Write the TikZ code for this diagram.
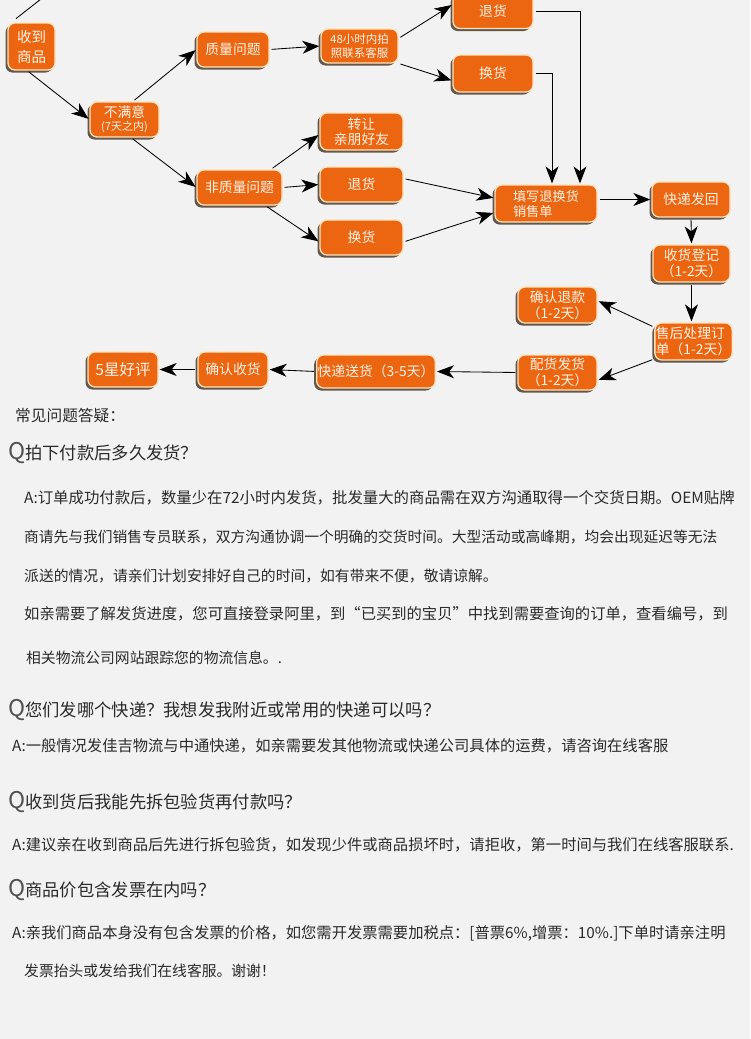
\documentclass[tikz,border=0pt]{standalone}
\usepackage{fontspec}
\setmainfont{Noto Sans CJK SC}
\usetikzlibrary{arrows.meta,shadows,calc}
\definecolor{bg}{HTML}{F2F2F2}
\definecolor{boxfill}{HTML}{EC6612}
\definecolor{boxedge}{HTML}{FFE3BA}
\definecolor{boxtext}{HTML}{FFF3E6}
\definecolor{shadowc}{HTML}{4A3B2E}
\definecolor{txt}{HTML}{2A2A2A}
\definecolor{qcol}{HTML}{505050}
\tikzset{
  flowbox/.style={rounded corners=7pt, fill=boxfill, draw=boxedge, line width=1.3pt,
    text=boxtext, align=center, inner sep=1pt,
    font=\fontsize{13.8}{16}\selectfont,
    drop shadow={shadow xshift=-2.5pt, shadow yshift=-2.5pt, fill=shadowc, opacity=0.85}},
  link/.style={draw=black, line width=0.85pt, -{Stealth[length=17pt,width=13pt,inset=5pt]},
    shorten >=1pt, shorten <=2pt},
  plain/.style={draw=black, line width=0.85pt},
  faq/.style={anchor=west, inner sep=0pt, text=txt, font=\fontsize{14.8}{18}\selectfont},
  ques/.style={anchor=west, inner sep=0pt, text=txt, font=\fontsize{17.3}{20}\selectfont},
}
\newcommand{\bigQ}{{\fontsize{23}{23}\selectfont\color{qcol}Q}}
\begin{document}
\begin{tikzpicture}[x=1pt,y=-1pt]
\fill[bg] (0,0) rectangle (750,1039);
\useasboundingbox (0,0) rectangle (750,1039);

% ---------- flow boxes ----------
\node[flowbox, minimum width=47pt, minimum height=47pt, font=\fontsize{14.5}{20}\selectfont] (recv) at (31.5,46.5) {收到\\商品};
\node[flowbox, minimum width=69pt, minimum height=35pt] (unsat) at (124.5,119.5) {不满意\\[-3pt]{\fontsize{11}{12}\selectfont(7天之内)}};
\node[flowbox, minimum width=72pt, minimum height=35pt] (qual) at (233,49.5) {质量问题};
\node[flowbox, minimum width=77pt, minimum height=34pt, font=\fontsize{11.5}{13.5}\selectfont] (h48) at (359.5,46) {48小时内拍\\照联系客服};
\node[flowbox, minimum width=80pt, minimum height=35pt] (retA) at (493,11) {退货};
\node[flowbox, minimum width=80pt, minimum height=37pt] (excA) at (493,73.5) {换货};
\node[flowbox, minimum width=83pt, minimum height=37pt, font=\fontsize{13.8}{15}\selectfont] (gift) at (361.5,131.5) {转让\\亲朋好友};
\node[flowbox, minimum width=83pt, minimum height=35pt] (retB) at (361.5,184.5) {退货};
\node[flowbox, minimum width=83pt, minimum height=35pt] (excB) at (361.5,237.5) {换货};
\node[flowbox, minimum width=85pt, minimum height=35pt] (nonq) at (239.5,187.5) {非质量问题};
\node[flowbox, minimum width=102pt, minimum height=37pt, align=left, font=\fontsize{13.2}{15}\selectfont] (fill) at (546,203.5) {填写退换货\\销售单};
\node[flowbox, minimum width=78pt, minimum height=35pt] (ship) at (691,199.5) {快递发回};
\node[flowbox, minimum width=77pt, minimum height=37pt, font=\fontsize{13.8}{16}\selectfont] (reg) at (691.5,263.5) {收货登记\\（1-2天）};
\node[flowbox, minimum width=79pt, minimum height=36pt, font=\fontsize{13.8}{16}\selectfont] (refund) at (557.5,305) {确认退款\\（1-2天）};
\node[flowbox, minimum width=77pt, minimum height=37pt, align=left, font=\fontsize{13.8}{16}\selectfont] (proc) at (693.5,341.5) {售后处理订\\单（1-2天）};
\node[flowbox, minimum width=79pt, minimum height=35pt, font=\fontsize{13.8}{16}\selectfont] (pick) at (557.5,372.5) {配货发货\\（1-2天）};
\node[flowbox, minimum width=117pt, minimum height=33pt] (deliv) at (376,371.5) {快递送货（3-5天）};
\node[flowbox, minimum width=70pt, minimum height=35pt] (confirm) at (233,369.5) {确认收货};
\node[flowbox, minimum width=70pt, minimum height=35pt, font=\fontsize{15.5}{17}\selectfont] (five) at (123,369.5) {5星好评};

% ---------- connectors ----------
\coordinate (topin) at (41,-1);
\draw[plain, shorten >=6pt] (topin) -- (recv.130);
\draw[link] (recv.-100) -- (unsat.west);
\draw[link] (unsat.65) -- (qual.west);
\draw[link] (unsat.-70) -- (nonq.west);
\draw[link] (qual.east) -- (h48.west);
\draw[link] (h48.11) -- (retA.171);
\draw[link] (h48.-24) -- (excA.190);
\draw[link] (nonq.30) -- (gift.184);
\draw[link] (nonq.east) -- (retB.west);
\draw[link] (nonq.-35) -- (excB.186);
\draw[link] (retB.8) -- (fill.174);
\draw[link] (excB.-6) -- (fill.190);
\draw[link] (retA.east) -| ([xshift=34pt]fill.north);
\draw[link] (excA.east) -| ([xshift=6pt]fill.north);
\draw[link] (fill.east |- ship.west) -- (ship.west);
\draw[link] (ship.south) -- (reg.north);
\draw[link] (reg.south) -- (reg.south |- proc.north);
\draw[link] (proc.160) -- (refund.6);
\draw[link] (proc.204) -- (pick.-11);
\draw[link] (pick.west) -- (deliv.east);
\draw[link] (deliv.west) -- (confirm.east);
\draw[link] (confirm.west) -- (five.east);

% ---------- FAQ ----------
\node[faq, font=\fontsize{15.7}{18}\selectfont] (faqtitle) at (15,416) {常见问题答疑：};
\node[ques] (q1) at (8,453) {\bigQ 拍下付款后多久发货？};
\node[faq, font=\fontsize{15.4}{18}\selectfont] (a1a) at (24,498) {A:订单成功付款后，数量少在72小时内发货，批发量大的商品需在双方沟通取得一个交货日期。OEM贴牌};
\node[faq, font=\fontsize{14.75}{18}\selectfont] (a1b) at (24,537) {商请先与我们销售专员联系，双方沟通协调一个明确的交货时间。大型活动或高峰期，均会出现延迟等无法};
\node[faq] (a1c) at (24,576) {派送的情况，请亲们计划安排好自己的时间，如有带来不便，敬请谅解。};
\node[faq, font=\fontsize{15.3}{18}\selectfont] (a1d) at (24,614) {如亲需要了解发货进度，您可直接登录阿里，到“已买到的宝贝”中找到需要查询的订单，查看编号，到};
\node[faq] (a1e) at (26,658) {相关物流公司网站跟踪您的物流信息。.};
\node[ques] (q2) at (8,710) {\bigQ 您们发哪个快递？我想发我附近或常用的快递可以吗？};
\node[faq, font=\fontsize{15.3}{18}\selectfont] (a2) at (12,746) {A:一般情况发佳吉物流与中通快递，如亲需要发其他物流或快递公司具体的运费，请咨询在线客服};
\node[ques] (q3) at (8,802) {\bigQ 收到货后我能先拆包验货再付款吗？};
\node[faq, font=\fontsize{15.3}{18}\selectfont] (a3) at (12,845) {A:建议亲在收到商品后先进行拆包验货，如发现少件或商品损坏时，请拒收，第一时间与我们在线客服联系.};
\node[ques] (q4) at (8,890) {\bigQ 商品价包含发票在内吗？};
\node[faq, font=\fontsize{15.3}{18}\selectfont] (a4a) at (12,933) {A:亲我们商品本身没有包含发票的价格，如您需开发票需要加税点：[普票6\%,增票：10\%.]下单时请亲注明};
\node[faq] (a4b) at (24,971) {发票抬头或发给我们在线客服。谢谢！};
\end{tikzpicture}
\end{document}
